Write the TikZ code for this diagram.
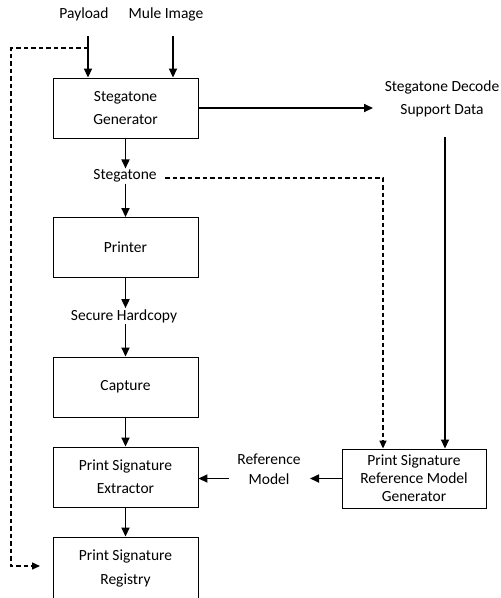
\documentclass[tikz,border=0pt]{standalone}
\usepackage{fontspec}
\setmainfont{Carlito}
\usetikzlibrary{arrows.meta}
\begin{document}
\begin{tikzpicture}[x=1pt,y=-1pt,
  font=\fontsize{15.5}{23}\selectfont,
  box/.style={draw,line width=0.9pt,minimum width=145pt,minimum height=60pt,align=center,inner sep=0pt},
  lbl/.style={align=center,inner sep=1pt},
  arr/.style={line width=1.7pt,-{Triangle[length=9pt,width=8pt]}},
  dsh/.style={line width=1.5pt,dash pattern=on 4.5pt off 3pt,-{Triangle[length=8pt,width=7pt]}}]
\useasboundingbox (0,0) rectangle (501,598);
\node[lbl] (pay) at (84,14) {Payload};
\node[lbl] (mule) at (166,14) {Mule Image};
\node[box] (gen) at (125.5,108) {Stegatone\\Generator};
\node[lbl] (steg) at (125,176) {Stegatone};
\node[box] (prn) at (125.5,247.5) {Printer};
\node[lbl] (sec) at (124,316) {Secure Hardcopy};
\node[box] (cap) at (125.5,387) {Capture};
\node[box] (pse) at (125.5,477) {Print Signature\\Extractor};
\node[box,minimum height=61pt] (psr) at (125.5,567.5) {\raisebox{3pt}{\begin{tabular}{@{}c@{}}Print Signature\\[1pt]Registry\end{tabular}}};
\node[lbl] (dec) at (442,99) {Stegatone Decode\\Support Data};
\node[box,minimum width=144pt,minimum height=59pt,font=\fontsize{15.5}{18}\selectfont] (rmg) at (414,478.5) {Print Signature\\Reference Model\\Generator};
\node[lbl,font=\fontsize{15.5}{20}\selectfont] (ref) at (269,469) {Reference\\Model};
\coordinate (p0) at (88,36);
\coordinate (m0) at (173,36);
\coordinate (pd) at (88,48);
\coordinate (dl) at (11,48);
\coordinate (dend) at (40,566);
\coordinate (dtip) at (373,108);
\coordinate (dv) at (445,137);
\coordinate (s0) at (165,178);
\coordinate (s1) at (383,178);
\coordinate (rt) at (310,478.5);
\coordinate (rs) at (229,478.5);
\draw[arr] (p0) -- (p0 |- gen.north);
\draw[arr] (m0) -- (m0 |- gen.north);
\draw[dsh] (pd) -- (dl) -- (dl |- dend) -- (dend);
\draw[arr] (gen.east |- dtip) -- (dtip);
\draw[arr] (dv) -- (dv |- rmg.north);
\draw[dsh] (s0) -- (s1) -- (s1 |- rmg.north);
\draw[arr] (gen.south) -- (gen.south |- steg.north);
\draw[arr] (prn.north |- steg.south) -- (prn.north);
\draw[arr] (prn.south) -- (prn.south |- sec.north);
\draw[arr] (cap.north |- sec.south) -- (cap.north);
\draw[arr] (cap.south) -- (pse.north);
\draw[arr] (pse.south) -- (psr.north);
\draw[arr] (rmg.west) -- (rt);
\draw[arr] (rs) -- (pse.east |- rs);
\end{tikzpicture}
\end{document}
